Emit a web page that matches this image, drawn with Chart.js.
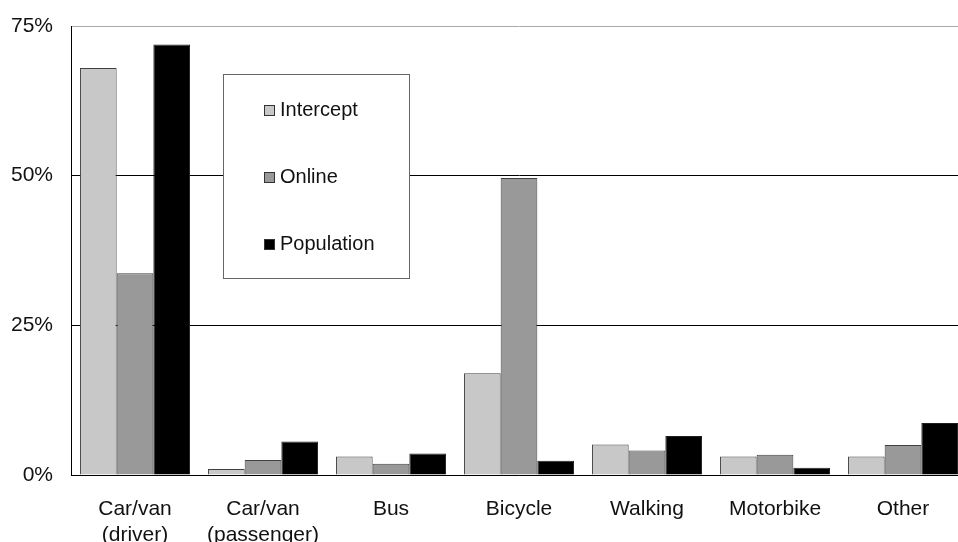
<!DOCTYPE html>
<html>
<head>
<meta charset="utf-8">
<script src="https://cdn.jsdelivr.net/npm/chart.js@4"></script>
<style>
  html, body { margin: 0; padding: 0; background: #fff; overflow: hidden; }
  #wrap { width: 958px; height: 542px; overflow: hidden; }
</style>
</head>
<body>
<div id="wrap"><canvas id="chart" width="967" height="542"></canvas></div>
<script>
// data
const categories = [['Car/van', '(driver)'], ['Car/van', '(passenger)'], 'Bus', 'Bicycle', 'Walking', 'Motorbike', 'Other'];
const intercept = [68.0, 1.0, 3.1, 17.0, 5.1, 3.1, 3.1];
const online = [33.7, 2.5, 1.9, 49.6, 4.1, 3.4, 5.0];
const population = [71.9, 5.6, 3.6, 2.4, 6.5, 1.2, 8.7];
const yTicks = [0, 25, 50, 75];

const FONT = '"Liberation Sans", Arial, sans-serif';

// legend in a box inside the plot, like the original
const boxLegend = {
    id: 'boxLegend',
    afterDraw(chart) {
        const ctx = chart.ctx;
        ctx.save();
        ctx.fillStyle = '#fff';
        ctx.strokeStyle = '#666';
        ctx.lineWidth = 1;
        ctx.fillRect(223, 74, 186, 204);
        ctx.strokeRect(223.5, 74.5, 186, 204);
        const rows = [110, 177, 244];
        ctx.font = '20px ' + FONT;
        ctx.textBaseline = 'middle';
        chart.data.datasets.forEach((ds, i) => {
            ctx.fillStyle = ds.backgroundColor;
            ctx.fillRect(264, rows[i] - 5, 11, 11);
            ctx.strokeStyle = '#333';
            ctx.strokeRect(264.5, rows[i] - 4.5, 10, 10);
            ctx.fillStyle = '#111';
            ctx.fillText(ds.label, 280, rows[i]);
        });
        ctx.restore();
    }
};

const ctx = document.getElementById('chart').getContext('2d');
new Chart(ctx, {
    type: 'bar',
    data: {
        labels: categories,
        datasets: [{
            label: 'Intercept',
            data: intercept,
            backgroundColor: '#c8c8c8',
            borderColor: '#404040',
            borderWidth: 1
        }, {
            label: 'Online',
            data: online,
            backgroundColor: '#999999',
            borderColor: '#404040',
            borderWidth: 1
        }, {
            label: 'Population',
            data: population,
            backgroundColor: '#000000',
            borderColor: '#202020',
            borderWidth: 1
        }]
    },
    options: {
        responsive: false,
        animation: false,
        layout: { padding: { top: 26, right: 0, bottom: 0, left: 0 } },
        datasets: {
            bar: { categoryPercentage: 0.86, barPercentage: 1.0 }
        },
        plugins: {
            legend: { display: false },
            tooltip: { enabled: false }
        },
        scales: {
            x: {
                grid: { display: false },
                border: { color: '#000', width: 1 },
                ticks: {
                    color: '#111',
                    font: { family: FONT, size: 21, lineHeight: 1.2 },
                    padding: 14,
                    maxRotation: 0
                },
                afterFit(scale) { scale.height = 67; }
            },
            y: {
                min: 0,
                max: 75,
                afterBuildTicks(scale) { scale.ticks = yTicks.map(v => ({ value: v })); },
                grid: {
                    drawTicks: false,
                    color: c => (c.tick && c.tick.value === 75) ? '#aaa' : '#000'
                },
                border: { color: '#000', width: 1 },
                ticks: {
                    color: '#111',
                    font: { family: FONT, size: 21 },
                    padding: 18,
                    callback: v => v + '%'
                },
                afterFit(scale) {
                    scale.width = 71;
                    scale.paddingTop = 0;
                    scale.paddingBottom = 0;
                }
            }
        }
    },
    plugins: [boxLegend]
});
</script>
</body>
</html>
